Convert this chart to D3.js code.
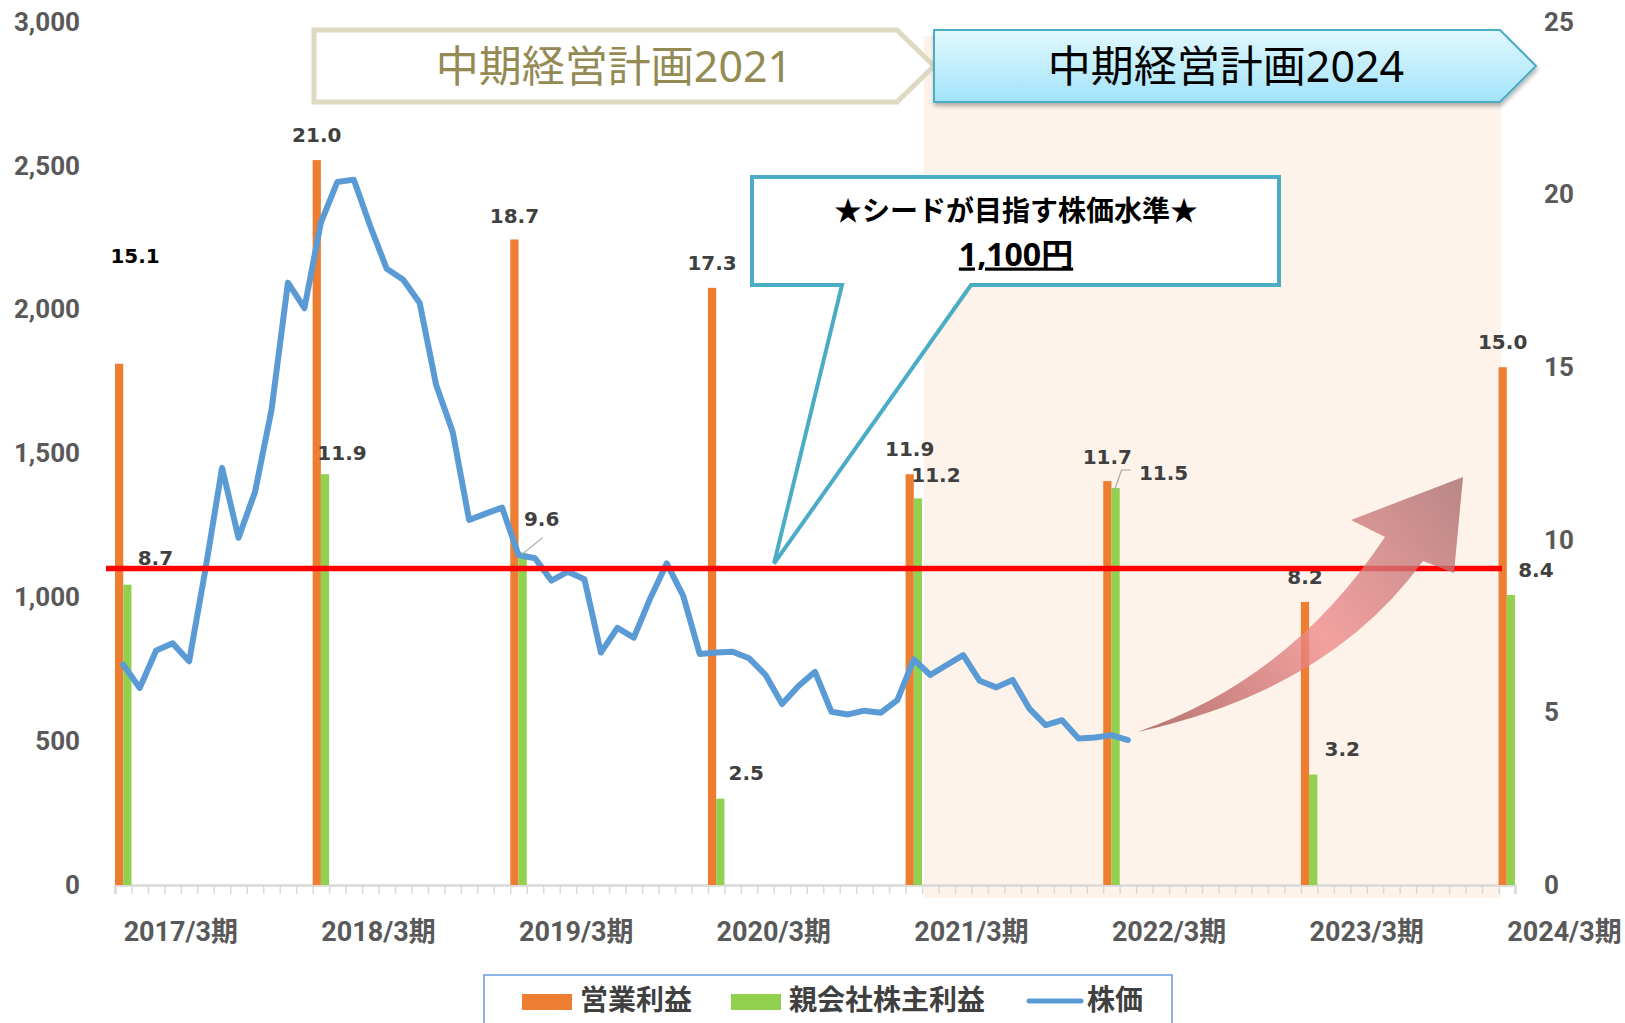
<!DOCTYPE html>
<html>
<head>
<meta charset="utf-8">
<script src="https://cdn.jsdelivr.net/npm/d3@7/dist/d3.min.js"></script>
<style>
  body { margin: 0; background: #fff; }
  svg { display: block; }
  text { font-family: Roboto, "Noto Sans CJK JP", sans-serif; }
</style>
</head>
<body>
<svg id="chart" width="1625" height="1023"></svg>
<script>
(function() {

    // monthly categories, one band per month (2016/4 .. 2023/4)
    var months = d3.range(85);
    var periodLabels = ["2017/3期", "2018/3期", "2019/3期", "2020/3期", "2021/3期", "2022/3期", "2023/3期", "2024/3期"];
    var barMonths = [0, 12, 24, 36, 48, 60, 72, 84];
    var opProfit = [15.1, 21.0, 18.7, 17.3, 11.9, 11.7, 8.2, 15.0];
    var netProfit = [8.7, 11.9, 9.6, 2.5, 11.2, 11.5, 3.2, 8.4];
    var stockPrice = [766, 685, 815, 840, 778, 1100, 1450, 1207, 1366, 1651, 2094, 2005,
        2303, 2444, 2452, 2290, 2142, 2104, 2023, 1738, 1576, 1269, 1291, 1312,
        1147, 1136, 1058, 1089, 1063, 808, 894, 860, 997, 1118, 1005, 803,
        808, 811, 788, 730, 629, 692, 741, 602, 593, 606, 599, 643,
        784, 730, 765, 799, 710, 687, 713, 614, 556, 573, 509, 513, 521, 504];
    var leftTicks = [0, 500, 1000, 1500, 2000, 2500, 3000];
    var rightTicks = [0, 5, 10, 15, 20, 25];
    var targetPrice = 1100;

    // label offsets (dx, dy) from bar top
    var opLabelOff = [[16, -108], [0, -25], [0, -24], [0, -25], [0, -25], [0, -24], [0, -25], [0, -25]];
    var netLabelOff = [[28, -27], [17, -21], [19, -35], [26, -26], [18, -24], [48, -15], [29, -26], [25, -25]];

    var svg = d3.select("#chart"),
        left = 115, right = 1515, top = 22, bottom = 885;

    var x = d3.scaleBand().domain(months).range([left, right]).padding(0);
    var xm = d3.scaleLinear().domain([0, 85]).range([left, right]);
    var yL = d3.scaleLinear().domain([0, 3000]).range([bottom, top]);
    var yR = d3.scaleLinear().domain([0, 25]).range([bottom, top]);
    var bw = x.bandwidth() / 2;

    var defs = svg.append("defs");
    var g2 = defs.append("linearGradient").attr("id", "bannerGrad")
        .attr("x1", 0).attr("y1", 0).attr("x2", 0).attr("y2", 1);
    g2.append("stop").attr("offset", "0%").attr("stop-color", "#e2f8fe");
    g2.append("stop").attr("offset", "100%").attr("stop-color", "#a2e3f9");
    var ag = defs.append("linearGradient").attr("id", "arrowGrad")
        .attr("gradientUnits", "userSpaceOnUse")
        .attr("x1", 1140).attr("y1", 735).attr("x2", 1460).attr("y2", 480);
    ag.append("stop").attr("offset", "0%").attr("stop-color", "#a0504e");
    ag.append("stop").attr("offset", "50%").attr("stop-color", "#f08a8a");
    ag.append("stop").attr("offset", "100%").attr("stop-color", "#a8696a");
    var sh = defs.append("filter").attr("id", "shadow").attr("x", "-5%").attr("y", "-20%")
        .attr("width", "110%").attr("height", "150%");
    sh.append("feDropShadow").attr("dx", 1).attr("dy", 3).attr("stdDeviation", 2)
        .attr("flood-color", "#000").attr("flood-opacity", 0.3);

    // mid-term plan 2024 shading
    svg.append("rect")
        .attr("x", 924).attr("y", 36).attr("width", 577).attr("height", 862)
        .attr("fill", "#fdf3ea");

    // plan banners
    svg.append("path")
        .attr("d", "M314,30 L897,30 L934,66 L897,102 L314,102 Z")
        .attr("fill", "#fff").attr("stroke", "#ddd9c3").attr("stroke-width", 5);
    svg.append("text")
        .attr("x", 614).attr("y", 67).attr("dy", "0.36em")
        .attr("text-anchor", "middle")
        .style("font-family", "'Noto Sans', 'Noto Sans CJK JP', sans-serif")
        .style("font-size", "43px").attr("fill", "#948a54")
        .text("中期経営計画2021");
    svg.append("path")
        .attr("d", "M934,30 L1500,30 L1536,66 L1500,102 L934,102 Z")
        .attr("fill", "url(#bannerGrad)").attr("stroke", "#4bacc6").attr("stroke-width", 2)
        .attr("filter", "url(#shadow)");
    svg.append("text")
        .attr("x", 1226).attr("y", 67).attr("dy", "0.36em")
        .attr("text-anchor", "middle")
        .style("font-family", "'Noto Sans', 'Noto Sans CJK JP', sans-serif")
        .style("font-size", "43px").attr("fill", "#000")
        .text("中期経営計画2024");

    // axes
    var axL = svg.append("g").attr("transform", "translate(" + left + ",0)")
        .call(d3.axisLeft(yL).tickValues(leftTicks).tickSize(0).tickPadding(35).tickFormat(d3.format(",")));
    var axR = svg.append("g").attr("transform", "translate(" + right + ",0)")
        .call(d3.axisRight(yR).tickValues(rightTicks).tickSize(0).tickPadding(29));
    [axL, axR].forEach(function(a) {
        a.select(".domain").remove();
        a.selectAll("text")
            .style("font-family", "Roboto, 'Noto Sans CJK JP', sans-serif")
            .style("font-size", "26px").style("font-weight", "bold")
            .attr("fill", "#595959");
    });

    var axB = svg.append("g").attr("transform", "translate(0," + bottom + ")")
        .call(d3.axisBottom(xm).tickValues(d3.range(86)).tickSize(9).tickFormat(""));
    axB.select(".domain").attr("stroke", "#d9d9d9").attr("stroke-width", 2.5);
    axB.selectAll(".tick line").attr("stroke", "#d9d9d9").attr("stroke-width", 1.5);

    svg.append("g").selectAll("text")
        .data(periodLabels)
        .enter().append("text")
        .attr("x", function(d, i) { return xm(barMonths[i] + 4); })
        .attr("y", 931).attr("dy", "0.36em")
        .attr("text-anchor", "middle")
        .style("font-size", "27px").style("font-weight", "bold")
        .attr("fill", "#595959")
        .text(function(d) { return d; });

    // bars
    var bars = svg.append("g");
    bars.selectAll(".op")
        .data(opProfit)
        .enter().append("rect")
        .attr("class", "op")
        .attr("x", function(d, i) { return x(barMonths[i]); })
        .attr("y", function(d) { return yR(d); })
        .attr("width", bw)
        .attr("height", function(d) { return bottom - yR(d); })
        .attr("fill", "#ed7d31");
    bars.selectAll(".net")
        .data(netProfit)
        .enter().append("rect")
        .attr("class", "net")
        .attr("x", function(d, i) { return x(barMonths[i]) + bw; })
        .attr("y", function(d) { return yR(d); })
        .attr("width", bw)
        .attr("height", function(d) { return bottom - yR(d); })
        .attr("fill", "#92d050");

    // stock price line
    var line = d3.line()
        .x(function(d, i) { return x(i) + x.bandwidth() / 2; })
        .y(function(d) { return yL(d); });
    svg.append("path")
        .datum(stockPrice)
        .attr("d", line)
        .attr("fill", "none")
        .attr("stroke", "#5b9bd5")
        .attr("stroke-width", 6)
        .attr("stroke-linejoin", "round")
        .attr("stroke-linecap", "round");

    // data labels
    function labelStyle(sel) {
        sel.attr("text-anchor", "middle")
            .style("font-family", "'DejaVu Sans', sans-serif")
            .style("font-size", "20px").style("font-weight", "bold");
    }
    var lab = svg.append("g");
    lab.selectAll(".opl")
        .data(opProfit)
        .enter().append("text")
        .attr("class", "opl")
        .attr("x", function(d, i) { return x(barMonths[i]) + bw / 2 + opLabelOff[i][0]; })
        .attr("y", function(d, i) { return yR(d) + opLabelOff[i][1]; })
        .attr("dy", "0.36em")
        .attr("fill", function(d, i) { return i === 0 ? "#000" : "#404040"; })
        .text(function(d) { return d.toFixed(1); })
        .call(labelStyle);
    lab.selectAll(".netl")
        .data(netProfit)
        .enter().append("text")
        .attr("class", "netl")
        .attr("x", function(d, i) { return x(barMonths[i]) + bw * 1.5 + netLabelOff[i][0]; })
        .attr("y", function(d, i) { return yR(d) + netLabelOff[i][1]; })
        .attr("dy", "0.36em")
        .attr("fill", "#404040")
        .text(function(d) { return d.toFixed(1); })
        .call(labelStyle);

    // leader lines for 9.6 and 11.5
    var gx2 = x(barMonths[2]) + bw * 1.5, gy2 = yR(netProfit[2]);
    lab.append("path")
        .attr("d", "M" + (gx2 - 1) + "," + (gy2 + 1) + "L" + (gx2 + 20) + "," + (gy2 - 16))
        .attr("stroke", "#a6a6a6").attr("stroke-width", 1.2).attr("fill", "none");
    var gx5 = x(barMonths[5]) + bw * 1.5, gy5 = yR(netProfit[5]);
    lab.append("path")
        .attr("d", "M" + (gx5 - 1) + "," + (gy5 + 2) + "L" + (gx5 + 6) + "," + (gy5 - 18) + "L" + (gx5 + 15) + "," + (gy5 - 18))
        .attr("stroke", "#a6a6a6").attr("stroke-width", 1.2).attr("fill", "none");

    // target price line
    svg.append("line")
        .attr("x1", 106).attr("x2", 1502)
        .attr("y1", yL(targetPrice)).attr("y2", yL(targetPrice))
        .attr("stroke", "#ff0000").attr("stroke-width", 5.5);

    // callout
    var tipY = yL(targetPrice) - 5;
    svg.append("path")
        .attr("d", "M752,177 L1279,177 L1279,285 L971,285 L774," + tipY + " L842,285 L752,285 Z")
        .attr("fill", "#fff").attr("stroke", "#4bacc6").attr("stroke-width", 4)
        .attr("stroke-linejoin", "miter");
    svg.append("text")
        .attr("x", 1016).attr("y", 211).attr("dy", "0.36em")
        .attr("text-anchor", "middle")
        .style("font-family", "'Noto Sans CJK JP', sans-serif")
        .style("font-size", "28px").style("font-weight", "bold")
        .attr("fill", "#000")
        .text("★シードが目指す株価水準★");
    svg.append("text")
        .attr("x", 1016).attr("y", 254).attr("dy", "0.36em")
        .attr("text-anchor", "middle")
        .style("font-family", "'Noto Sans', 'Noto Sans CJK JP', sans-serif")
        .style("font-size", "32px").style("font-weight", "bold")
        .style("text-decoration", "underline")
        .attr("fill", "#000")
        .text("1,100円");

    // upward arrow
    svg.append("path")
        .attr("d", "M1137,732 Q1290,680 1385,537 L1351,520 L1463,477 L1454,573 L1423,561 Q1330,690 1137,732 Z")
        .attr("fill", "url(#arrowGrad)")
        .attr("opacity", 0.78);

    // legend
    var lg = svg.append("g");
    lg.append("rect")
        .attr("x", 484).attr("y", 975).attr("width", 688).attr("height", 62)
        .attr("fill", "#fff").attr("stroke", "#8eb4e3").attr("stroke-width", 2);
    var items = [
        { name: "営業利益", color: "#ed7d31", type: "bar", sx: 522, tx: 580 },
        { name: "親会社株主利益", color: "#92d050", type: "bar", sx: 731, tx: 789 },
        { name: "株価", color: "#5b9bd5", type: "line", sx: 1029, tx: 1087 }
    ];
    items.forEach(function(it) {
        if (it.type === "bar") {
            lg.append("rect").attr("x", it.sx).attr("y", 994).attr("width", 50).attr("height", 16)
                .attr("fill", it.color);
        } else {
            lg.append("line").attr("x1", it.sx).attr("x2", it.sx + 52)
                .attr("y1", 1001).attr("y2", 1001)
                .attr("stroke", it.color).attr("stroke-width", 5).attr("stroke-linecap", "round");
        }
        lg.append("text")
            .attr("x", it.tx).attr("y", 1000).attr("dy", "0.36em")
            .style("font-family", "'Noto Sans CJK JP', sans-serif")
            .style("font-size", "28px").style("font-weight", "bold")
            .attr("fill", "#404040")
            .text(it.name);
    });

})();
</script>
</body>
</html>
